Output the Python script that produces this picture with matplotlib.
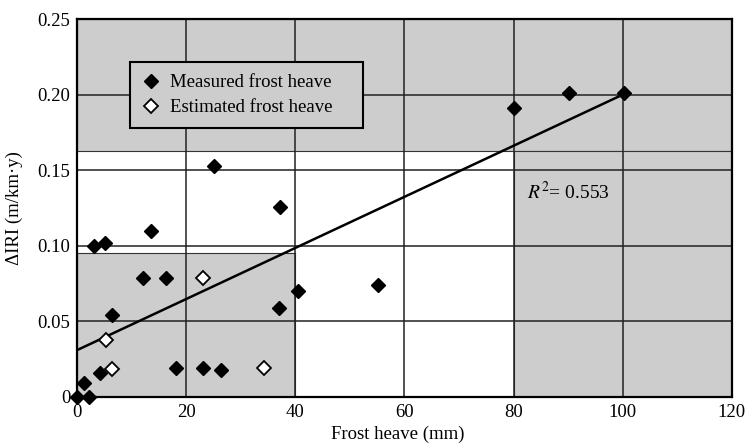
import numpy as np
import matplotlib.pyplot as plt
from matplotlib.patches import Rectangle

plt.rcParams['font.family'] = ['Liberation Serif', 'DejaVu Serif']
plt.rcParams['mathtext.fontset'] = 'stix'

# measured frost heave (mm) vs change in IRI (m/km.y)
meas_x = [0, 2.2, 1.3, 4.1, 3.0, 5.1, 13.5, 6.4, 12.1, 16.2, 18.2, 23.1, 26.3,
          37.0, 40.4, 55.2, 25.1, 37.2, 80.1, 90.2, 100.2]
meas_y = [0, 0, 0.009, 0.016, 0.100, 0.102, 0.110, 0.054, 0.079, 0.079, 0.019,
          0.019, 0.018, 0.059, 0.070, 0.074, 0.153, 0.126, 0.191, 0.201, 0.201]

# estimated frost heave
est_x = [5.3, 6.3, 23.1, 34.2]
est_y = [0.038, 0.0185, 0.079, 0.019]

# regression line
fit_x = [0, 100]
fit_y = [0.031, 0.200]

fig = plt.figure(figsize=(7.49, 4.44), dpi=100)
ax = fig.add_axes([0.103, 0.106, 0.874, 0.851])

gray = '#cdcdcd'
# shaded regions of the scanned page
ax.add_patch(Rectangle((0, 0.163), 120, 0.087, facecolor=gray, edgecolor='#333333', lw=0.8, zorder=0))
ax.add_patch(Rectangle((80, 0), 40, 0.163, facecolor=gray, edgecolor='#333333', lw=0.8, zorder=0))
ax.add_patch(Rectangle((0, 0), 40, 0.095, facecolor=gray, edgecolor='#333333', lw=0.8, zorder=0))

ax.set_xlim(0, 120)
ax.set_ylim(0, 0.25)
ax.set_xticks(np.arange(0, 121, 20))
ax.set_yticks([0, 0.05, 0.10, 0.15, 0.20, 0.25])
ax.set_yticklabels(['0', '0.05', '0.10', '0.15', '0.20', '0.25'])
ax.grid(True, color='#222222', lw=1.1, zorder=1)
ax.set_axisbelow(True)
ax.tick_params(length=0, labelsize=13.5, pad=5)
for s in ax.spines.values():
    s.set_linewidth(1.6)
    s.set_color('black')

ax.plot(fit_x, fit_y, color='black', lw=1.8, zorder=3)
ax.plot(meas_x, meas_y, 'D', color='black', ms=7.5, mec='black', zorder=4,
        clip_on=False, label='Measured frost heave')
ax.plot(est_x, est_y, 'D', mfc='white', mec='black', mew=1.3, ms=7.5, zorder=4,
        label='Estimated frost heave')

ax.text(82.5, 0.131, r'$R^2$= 0.553', fontsize=14)

leg = ax.legend(loc='upper left', bbox_to_anchor=(0.08, 0.886, 0.356, 0.0),
                mode='expand', fontsize=13.5,
                fancybox=False, framealpha=1, facecolor=gray, edgecolor='black',
                borderpad=0.65, handletextpad=0.5, handlelength=1.0,
                labelspacing=0.4, borderaxespad=0)
leg.get_frame().set_linewidth(1.5)

ax.set_xlabel('Frost heave (mm)', fontsize=13.5)
ax.xaxis.set_label_coords(0.49, -0.075)
ax.set_ylabel('ΔIRI (m/km·y)', fontsize=13.5)
ax.yaxis.set_label_coords(-0.082, 0.5)

fig.savefig('out.png', dpi=100)
